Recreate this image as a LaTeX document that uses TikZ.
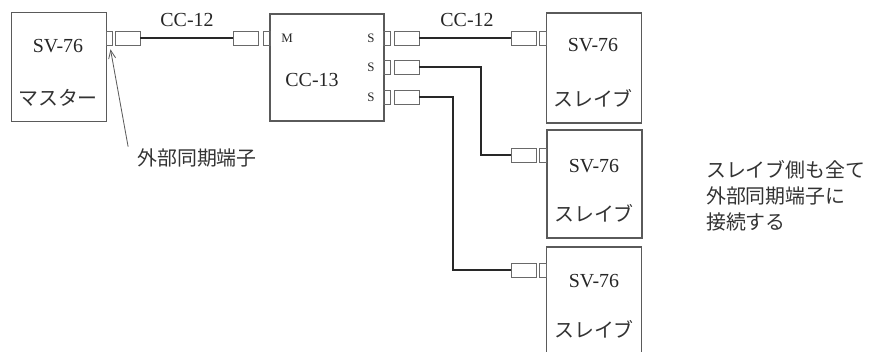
\documentclass[tikz,border=0pt]{standalone}
\usepackage{fontspec}
\setmainfont{Liberation Serif}
\newfontfamily\jpfont{Noto Sans CJK JP}
\definecolor{unitgray}{RGB}{90,90,90}
\definecolor{pluggray}{RGB}{105,105,105}
\definecolor{cablegray}{RGB}{40,40,40}
\usetikzlibrary{arrows.meta,positioning,calc}

\begin{document}
\begin{tikzpicture}[x=0.03cm, y=-0.03cm,
  unit/.style={draw=unitgray, line width=0.9pt, minimum width=2.85cm, minimum height=3.27cm, inner sep=0pt},
  port/.style={draw=pluggray, line width=0.6pt, minimum width=0.19cm, minimum height=0.42cm, inner sep=0pt},
  plug/.style={draw=pluggray, line width=0.6pt, minimum width=0.75cm, minimum height=0.42cm, inner sep=0pt},
  cable/.style={cablegray, line width=1.5pt},
  en/.style={font=\fontsize{17}{20}\selectfont, text=black!85},
  jp/.style={font=\jpfont\fontsize{17}{20}\selectfont, text=black!80},
  tag/.style={font=\fontsize{11}{13}\selectfont, text=black!85}]

\clip (0,0) rectangle (870,351);
\fill[white] (0,0) rectangle (870,351);

% --- Master unit ---
\node[unit] (mst) at (59,67) {};
\node[en] (mstname) at (58,46) {SV-76};
\node[jp] (mstrole) at (58,98) {マスター};
\node[port] (mport) at (109.5,38) {};
\node[plug] (mplug) at (127.5,38) {};

% --- CC-13 distributor ---
\node[unit, minimum width=3.42cm, minimum height=3.21cm] (hub) at (327,67.5) {};
\node[en] (hubname) at (312,80) {CC-13};
\node[port] (hport) at (267,38) {};
\node[plug] (hplug) at (245.5,38) {};
\node[tag] (mtag) at (287,38) {M};
\foreach \i/\y in {1/38, 2/67, 3/97} {
  \node[tag] (stag\i) at (371,\y) {S};
  \node[port] (sport\i) at (387,\y) {};
  \node[plug] (splug\i) at (406.5,\y) {};
}

% --- Slave units ---
\node[unit, minimum height=3.3cm] (slv1) at (594,68) {};
\node[unit, minimum height=3.24cm] (slv2) at (594.5,184) {};
\node[unit, minimum height=3.6cm] (slv3) at (594,307) {};
\foreach \i/\yp in {1/38, 2/155, 3/270} {
  \node[port] (tport\i) at (543,\yp) {};
  \node[plug] (tplug\i) at (523.5,\yp) {};
}
\node[en] (slvname1) at (593,45) {SV-76};
\node[jp] (slvrole1) at (593,98) {スレイブ};
\node[en] (slvname2) at (594,166) {SV-76};
\node[jp] (slvrole2) at (594,213) {スレイブ};
\node[en] (slvname3) at (594,281) {SV-76};
\node[jp] (slvrole3) at (594,329) {スレイブ};

% --- Cables ---
\draw[cable] (mplug.east) -- (hplug.west);
\node[en] (cab1) at (187,20) {CC-12};
\draw[cable] (splug1.east) -- (tplug1.west);
\node[en] (cab2) at (467,20) {CC-12};
\coordinate (bend2) at (481,155);
\coordinate (bend3) at (453,270);
\draw[cable] (splug2.east) -| (bend2) -- (tplug2.west);
\draw[cable] (splug3.east) -| (bend3) -- (tplug3.west);

% --- Notes ---
\node[jp] (extlbl) at (197,158) {外部同期端子};
\draw[-{Straight Barb[length=7pt, width=6pt]}, unitgray, line width=0.7pt]
  ($(extlbl.north west)+(-5,2)$) -- ($(mport.south)+(1,4)$);
\node[jp, align=left, anchor=west, font=\jpfont\fontsize{17}{22}\selectfont]
  (note) at (702,196) {スレイブ側も全て\\外部同期端子に\\接続する};

\end{tikzpicture}
\end{document}
